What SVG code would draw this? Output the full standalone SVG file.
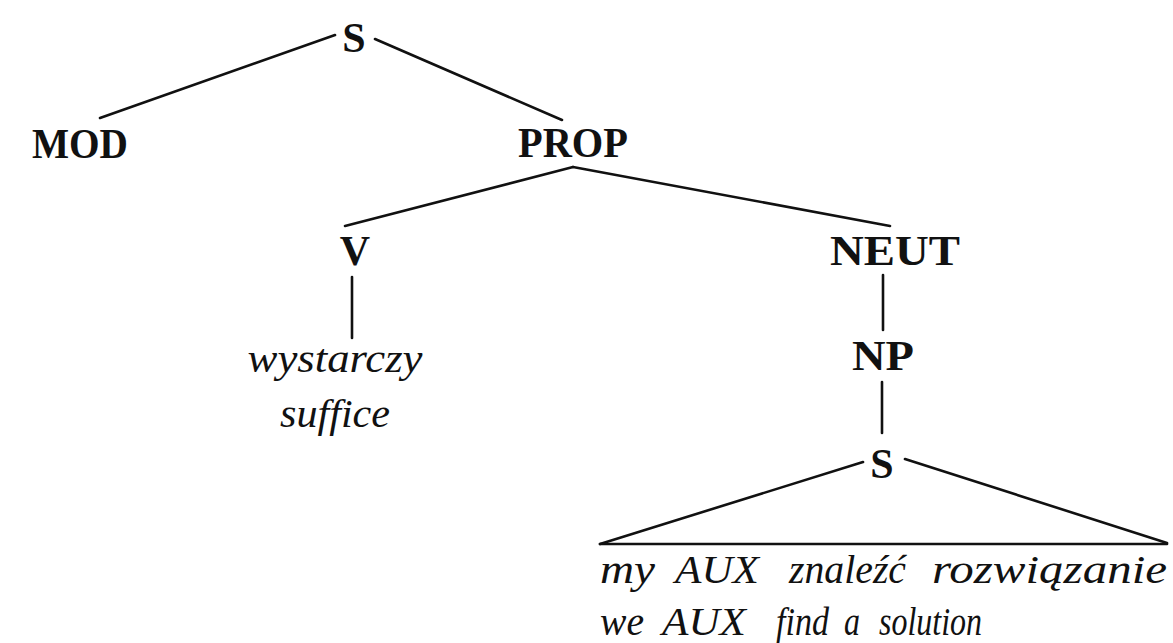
<svg xmlns="http://www.w3.org/2000/svg" width="1173" height="643" viewBox="0 0 1173 643">
<style>
.lbl{font-family:"Liberation Serif",serif;font-weight:bold;font-size:42px;fill:#111;text-anchor:middle}
.it{font-family:"Liberation Serif",serif;font-style:italic;font-size:40px;fill:#111}
.itc{text-anchor:middle}
.e{stroke:#111;stroke-width:2.6;fill:none;stroke-linecap:round}
</style>
<rect width="1173" height="643" fill="#fff"/>
<g id="connectors">
<line class="e" x1="335" y1="35" x2="100" y2="118"/>
<line class="e" x1="375" y1="39" x2="562" y2="120"/>
<line class="e" x1="573" y1="167" x2="345" y2="226"/>
<line class="e" x1="573" y1="167" x2="890" y2="226"/>
<line class="e" x1="352" y1="277" x2="352" y2="338"/>
<line class="e" x1="883" y1="275" x2="883" y2="330"/>
<line class="e" x1="882" y1="382" x2="882" y2="433"/>
<line class="e" x1="863" y1="462" x2="600" y2="544"/>
<line class="e" x1="905" y1="459" x2="1167" y2="543"/>
<line class="e" x1="600" y1="544" x2="1167" y2="544"/>
</g>
<g id="n-s-top"><text class="lbl" x="354" y="52">S</text></g>
<g id="n-mod"><text class="lbl" x="80" y="158" textLength="96" lengthAdjust="spacingAndGlyphs">MOD</text></g>
<g id="n-prop"><text class="lbl" x="573" y="157" textLength="110" lengthAdjust="spacingAndGlyphs">PROP</text></g>
<g id="n-v"><text class="lbl" x="355" y="265">V</text></g>
<g id="n-wystarczy">
<text class="it itc" x="335" y="372" textLength="175" lengthAdjust="spacingAndGlyphs">wystarczy</text>
<text class="it itc" x="335" y="427" textLength="110" lengthAdjust="spacingAndGlyphs">suffice</text>
</g>
<g id="n-neut"><text class="lbl" x="895" y="265" textLength="130" lengthAdjust="spacingAndGlyphs">NEUT</text></g>
<g id="n-np"><text class="lbl" x="883" y="370" textLength="62" lengthAdjust="spacingAndGlyphs">NP</text></g>
<g id="n-s-low"><text class="lbl" x="882" y="478">S</text></g>
<g id="n-clause">
<text class="it" x="600" y="583" textLength="55" lengthAdjust="spacingAndGlyphs">my</text>
<text class="it" x="675" y="583" textLength="84" lengthAdjust="spacingAndGlyphs">AUX</text>
<text class="it" x="789" y="583" textLength="117" lengthAdjust="spacingAndGlyphs">znaleźć</text>
<text class="it" x="932" y="583" textLength="235" lengthAdjust="spacingAndGlyphs">rozwiązanie</text>
<text class="it" x="600" y="635" textLength="44" lengthAdjust="spacingAndGlyphs">we</text>
<text class="it" x="662" y="635" textLength="84" lengthAdjust="spacingAndGlyphs">AUX</text>
<text class="it" x="776" y="635" textLength="53" lengthAdjust="spacingAndGlyphs">find</text>
<text class="it" x="844" y="635" textLength="16" lengthAdjust="spacingAndGlyphs">a</text>
<text class="it" x="879" y="635" textLength="103" lengthAdjust="spacingAndGlyphs">solution</text>
</g>
</svg>
